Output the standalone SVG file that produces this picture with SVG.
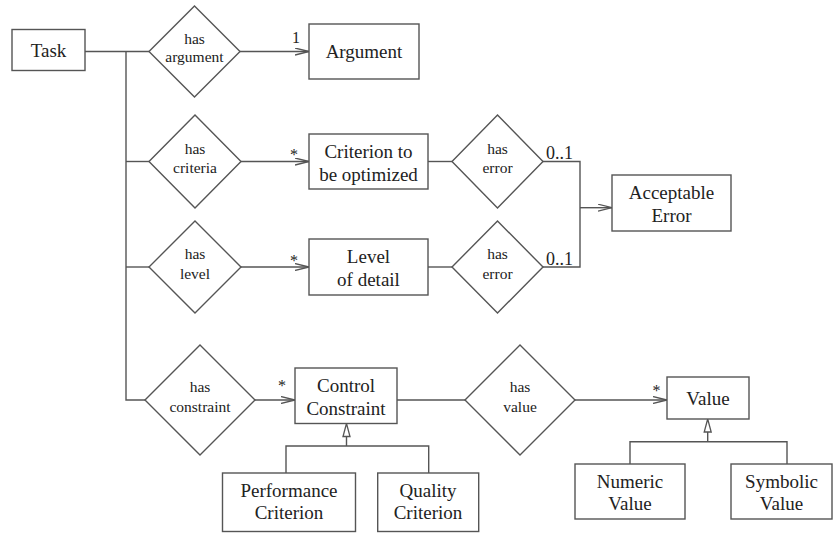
<svg xmlns="http://www.w3.org/2000/svg" width="833" height="533" viewBox="0 0 833 533">
<style>
.n{fill:#fff;stroke:#555;stroke-width:1.4}
.c{fill:none;stroke:#555;stroke-width:1.4}
.g{fill:#fff;stroke:#555;stroke-width:1.3}
.t{font-family:"Liberation Serif","Times New Roman",serif;font-size:19px;fill:#222;text-anchor:middle}
.d{font-family:"Liberation Serif","Times New Roman",serif;font-size:15.5px;fill:#222;text-anchor:middle}
.m{font-family:"Liberation Serif","Times New Roman",serif;font-size:16px;fill:#222;text-anchor:middle}
.z{font-family:"Liberation Serif","Times New Roman",serif;font-size:18px;fill:#222}
</style>
<defs>
<marker id="open" viewBox="0 0 14 8" refX="14" refY="4" markerWidth="14" markerHeight="8" markerUnits="userSpaceOnUse" orient="auto">
<path d="M0,0.5 L14,4 L0,7.5" fill="none" stroke="#555" stroke-width="1.3"/>
</marker>
</defs>
<rect width="833" height="533" fill="#fff"/>
<g id="connectors">
<path class="c" d="M85,51.5 H149"/>
<path class="c" d="M126,51.5 V400 H145"/>
<path class="c" d="M126,161.5 H149"/>
<path class="c" d="M126,267 H149"/>
<path class="c" d="M240,51.5 H309" marker-end="url(#open)"/>
<path class="c" d="M241,161.5 H309" marker-end="url(#open)"/>
<path class="c" d="M241,267 H309" marker-end="url(#open)"/>
<path class="c" d="M255,400 H295" marker-end="url(#open)"/>
<path class="c" d="M428,161.5 H452"/>
<path class="c" d="M428,267 H452"/>
<path class="c" d="M543,161.5 H580 V267 H543"/>
<path class="c" d="M580,207.7 H612" marker-end="url(#open)"/>
<path class="c" d="M397,400 H465"/>
<path class="c" d="M575,400 H667" marker-end="url(#open)"/>
<path class="c" d="M346.5,436.5 V446 M286,473 V446 H428.7 V473"/>
<polygon class="g" points="346.5,423.5 343,436.5 350,436.5"/>
<path class="c" d="M707.7,432 V441.7 M630,464 V441.7 H787 V464"/>
<polygon class="g" points="707.7,419 704.2,432 711.2,432"/>
<text class="m" x="296" y="42.7">1</text>
<text class="m" x="294" y="160">*</text>
<text class="m" x="294" y="265.5">*</text>
<text class="m" x="282" y="391">*</text>
<text class="m" x="656.5" y="396">*</text>
<text class="z" x="546" y="159">0..1</text>
<text class="z" x="546" y="264.5">0..1</text>
</g>
<g id="task"><rect class="n" x="12" y="29.5" width="73" height="41"/><text class="t" x="48.5" y="57">Task</text></g>
<g id="has-argument"><polygon class="n" points="194.5,6 240,51.5 194.5,97 149,51.5"/><text class="d" x="194.5" y="43.5">has</text><text class="d" x="194.5" y="62">argument</text></g>
<g id="argument"><rect class="n" x="309" y="24" width="110" height="55"/><text class="t" x="364" y="57.8">Argument</text></g>
<g id="has-criteria"><polygon class="n" points="195,115 241,161.5 195,208 149,161.5"/><text class="d" x="195" y="153.5">has</text><text class="d" x="195" y="173">criteria</text></g>
<g id="criterion"><rect class="n" x="309" y="134" width="119" height="55"/><text class="t" x="368.5" y="158">Criterion to</text><text class="t" x="368.5" y="180.5">be optimized</text></g>
<g id="has-error-1"><polygon class="n" points="497.5,115 543,161.5 497.5,208 452,161.5"/><text class="d" x="497.5" y="153.5">has</text><text class="d" x="497.5" y="173">error</text></g>
<g id="acceptable-error"><rect class="n" x="612" y="175" width="119" height="56"/><text class="t" x="671.5" y="199">Acceptable</text><text class="t" x="671.5" y="221.5">Error</text></g>
<g id="has-level"><polygon class="n" points="195,221 241,267 195,313 149,267"/><text class="d" x="195" y="259">has</text><text class="d" x="195" y="278.5">level</text></g>
<g id="level"><rect class="n" x="309" y="239" width="119" height="56"/><text class="t" x="368.5" y="263">Level</text><text class="t" x="368.5" y="285.5">of detail</text></g>
<g id="has-error-2"><polygon class="n" points="497.5,221 543,267 497.5,313 452,267"/><text class="d" x="497.5" y="259">has</text><text class="d" x="497.5" y="278.5">error</text></g>
<g id="has-constraint"><polygon class="n" points="200,345 255,400 200,455 145,400"/><text class="d" x="200" y="392">has</text><text class="d" x="200" y="411.5">constraint</text></g>
<g id="control-constraint"><rect class="n" x="295" y="368" width="102" height="55.5"/><text class="t" x="346" y="392">Control</text><text class="t" x="346" y="414.5">Constraint</text></g>
<g id="has-value"><polygon class="n" points="520,345 575,400 520,455 465,400"/><text class="d" x="520" y="392">has</text><text class="d" x="520" y="411.5">value</text></g>
<g id="value"><rect class="n" x="667" y="377" width="82" height="42"/><text class="t" x="708" y="404.5">Value</text></g>
<g id="performance-criterion"><rect class="n" x="222.5" y="473" width="133" height="58.5"/><text class="t" x="289" y="497">Performance</text><text class="t" x="289" y="519">Criterion</text></g>
<g id="quality-criterion"><rect class="n" x="377.7" y="473" width="101" height="58.5"/><text class="t" x="428" y="497">Quality</text><text class="t" x="428" y="519">Criterion</text></g>
<g id="numeric-value"><rect class="n" x="575" y="464" width="110" height="55"/><text class="t" x="630" y="487.5">Numeric</text><text class="t" x="630" y="510">Value</text></g>
<g id="symbolic-value"><rect class="n" x="731" y="464" width="101" height="55"/><text class="t" x="781.5" y="487.5">Symbolic</text><text class="t" x="781.5" y="510">Value</text></g>
</svg>
